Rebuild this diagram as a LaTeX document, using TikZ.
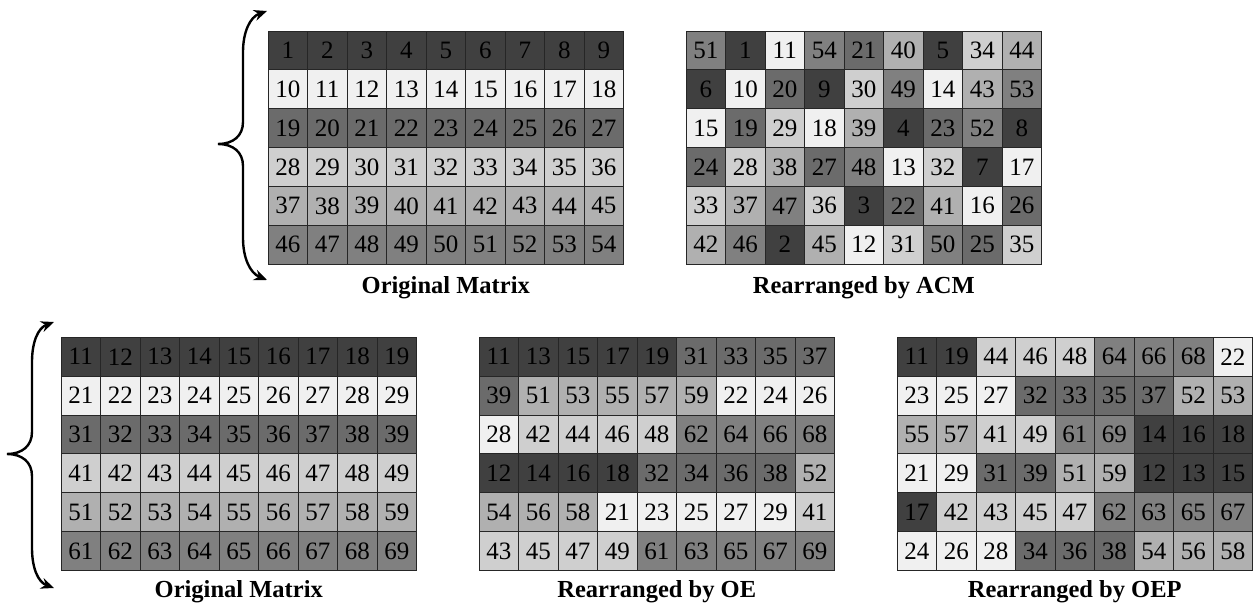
\documentclass[tikz,border=0pt]{standalone}
\usepackage{fontspec}
\setmainfont{Liberation Serif}
\usetikzlibrary{arrows.meta}
\definecolor{shade1}{gray}{0.25}
\definecolor{shade2}{gray}{0.94}
\definecolor{shade3}{gray}{0.42}
\definecolor{shade4}{gray}{0.81}
\definecolor{shade5}{gray}{0.69}
\definecolor{shade6}{gray}{0.50}
\begin{document}
\begin{tikzpicture}[x=1pt,y=-1pt,
  cell/.style={draw=black!85,line width=0.8pt,minimum width=39.5pt,minimum height=38.85pt,
    inner sep=0pt,font=\fontsize{25}{25}\selectfont},
  lab/.style={anchor=base,font=\bfseries\fontsize{24.5}{24.5}\selectfont},
  brace/.style={line width=2.4pt,{Stealth[length=13pt,width=11pt]}-{Stealth[length=13pt,width=11pt]}}]
\useasboundingbox (0,0) rectangle (1256,607);
% top row: original 1..54 and ACM
\foreach \i in {1,...,6} \foreach \j in {1,...,9} {
  \pgfmathtruncatemacro\n{(\i-1)*9+\j}
  \node[cell,fill=shade\i] (orgA-\i-\j) at ({268+(\j-0.5)*39.5},{31+(\i-0.5)*38.85}) {\n};
}
\foreach \row [count=\i] in {{51,1,11,54,21,40,5,34,44},{6,10,20,9,30,49,14,43,53},
  {15,19,29,18,39,4,23,52,8},{24,28,38,27,48,13,32,7,17},
  {33,37,47,36,3,22,41,16,26},{42,46,2,45,12,31,50,25,35}}
  \foreach \n [count=\j] in \row {
  \pgfmathtruncatemacro\g{int((\n-1)/9)+1}
  \node[cell,fill=shade\g] (acm-\i-\j) at ({686+(\j-0.5)*39.5},{31+(\i-0.5)*38.85}) {\n};
}
\node[lab] (lab-orgA) at (445.75,293) {Original Matrix};
\node[lab] (lab-acm) at (863.75,293) {Rearranged by ACM};
% bottom row: original 11..69, OE and OEP
\foreach \i in {1,...,6} \foreach \j in {1,...,9} {
  \node[cell,fill=shade\i] (orgB-\i-\j) at ({61+(\j-0.5)*39.5},{337.3+(\i-0.5)*38.85}) {\i\j};
}
\foreach \row [count=\i] in {{11,13,15,17,19,31,33,35,37},{39,51,53,55,57,59,22,24,26},
  {28,42,44,46,48,62,64,66,68},{12,14,16,18,32,34,36,38,52},
  {54,56,58,21,23,25,27,29,41},{43,45,47,49,61,63,65,67,69}}
  \foreach \n [count=\j] in \row {
  \pgfmathtruncatemacro\g{int(\n/10)}
  \node[cell,fill=shade\g] (oe-\i-\j) at ({479+(\j-0.5)*39.5},{337.3+(\i-0.5)*38.85}) {\n};
}
\foreach \row [count=\i] in {{11,19,44,46,48,64,66,68,22},{23,25,27,32,33,35,37,52,53},
  {55,57,41,49,61,69,14,16,18},{21,29,31,39,51,59,12,13,15},
  {17,42,43,45,47,62,63,65,67},{24,26,28,34,36,38,54,56,58}}
  \foreach \n [count=\j] in \row {
  \pgfmathtruncatemacro\g{int(\n/10)}
  \node[cell,fill=shade\g] (oep-\i-\j) at ({897+(\j-0.5)*39.5},{337.3+(\i-0.5)*38.85}) {\n};
}
\node[lab] (lab-orgB) at (238.75,597) {Original Matrix};
\node[lab] (lab-oe) at (656.75,597) {Rearranged by OE};
\node[lab] (lab-oep) at (1074.75,597) {Rearranged by OEP};
% braces
\coordinate (braceA-top) at (267,11);
\coordinate (braceA-bot) at (267,280);
\coordinate (braceB-top) at (54,322);
\coordinate (braceB-bot) at (54,588);
\draw[brace] (braceA-top) .. controls (250,17) and (243,32) .. (243,52) -- (243,122)
  .. controls (243,136) and (233,144) .. (218,144)
  .. controls (233,144) and (243,152) .. (243,166) -- (243,238)
  .. controls (243,258) and (250,273) .. (braceA-bot);
\draw[brace] (braceB-top) .. controls (38,328) and (32,342) .. (32,362) -- (32,432)
  .. controls (32,446) and (22,454) .. (7,454)
  .. controls (22,454) and (32,462) .. (32,476) -- (32,548)
  .. controls (32,568) and (38,582) .. (braceB-bot);
\end{tikzpicture}
\end{document}
